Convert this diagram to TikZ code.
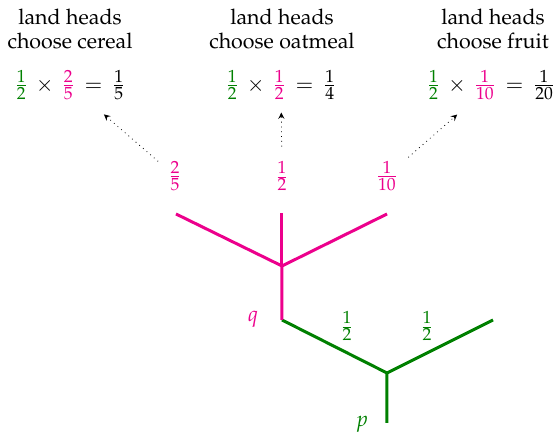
\documentclass[tikz,border=0pt]{standalone}
\usepackage[T1]{fontenc}
\usepackage{mathpazo}
\usepackage{xcolor}
\usetikzlibrary{arrows}
\DeclareMathSizes{10.7}{10.7}{8.8}{6.5}
\definecolor{treepink}{RGB}{236,0,140}
\definecolor{treegreen}{RGB}{0,128,0}
\tikzset{
  pink branch/.style={draw=treepink, line width=1.5pt},
  green branch/.style={draw=treegreen, line width=1.5pt},
  outcome/.style={align=center},
  pointer/.style={dotted, -stealth, shorten <=4pt, shorten >=3pt}
}

\begin{document}
\begin{tikzpicture}[x=0.5pt, y=0.5pt,
    every node/.style={font=\fontsize{10.7}{12}\selectfont}]
    \useasboundingbox (0,0) rectangle (559,437);
    % the tree
    \coordinate (root) at (387,14);
    \coordinate (gfork) at (387,64);
    \coordinate (q) at (282,117);
    \coordinate (gright) at (493,117);
    \coordinate (pfork) at (282,171);
    \coordinate (cereal) at (176,223);
    \coordinate (oatmeal) at (282,224);
    \coordinate (fruit) at (387,223);
    \draw [green branch] (root) -- (gfork) -- (q);
    \draw [green branch] (gfork) -- (gright);
    \draw [pink branch] (q) -- (pfork) -- (cereal);
    \draw [pink branch] (pfork) -- (oatmeal);
    \draw [pink branch] (pfork) -- (fruit);
    \node [treepink] (qlabel) at (253,118) {$q$};
    \node [treegreen] (plabel) at (362,13) {$p$};
    \node [treegreen] (gleft) at (347,111) {$\frac{1}{2}$};
    \node [treegreen] (gright label) at (427,111) {$\frac{1}{2}$};
    \node [treepink] (pcereal) at (175,261) {$\frac{2}{5}$};
    \node [treepink] (poatmeal) at (282,261) {$\frac{1}{2}$};
    \node [treepink] (pfruit) at (387,261) {$\frac{1}{10}$};
    % outcomes
    \node [outcome] (hcereal) at (70,408) {land heads\\choose cereal};
    \node [outcome] (hoatmeal) at (282,408) {land heads\\choose oatmeal};
    \node [outcome] (hfruit) at (493,408) {land heads\\choose fruit};
    \node (eqcereal) at (70,352)
      {$\textcolor{treegreen}{\frac{1}{2}} \,\times\, \textcolor{treepink}{\frac{2}{5}} \,=\, \frac{1}{5}$};
    \node (eqoatmeal) at (281,352)
      {$\textcolor{treegreen}{\frac{1}{2}} \,\times\, \textcolor{treepink}{\frac{1}{2}} \,=\, \frac{1}{4}$};
    \node (eqfruit) at (491,352)
      {$\textcolor{treegreen}{\frac{1}{2}} \,\times\, \textcolor{treepink}{\frac{1}{10}} \,=\, \frac{1}{20}$};
    \draw [pointer, shorten <=2pt, shorten >=6pt] (pcereal) -- (eqcereal);
    \draw [pointer] (poatmeal) -- (eqoatmeal);
    \draw [pointer, shorten <=2pt, shorten >=6pt] (pfruit) -- (eqfruit);
\end{tikzpicture}
\end{document}
